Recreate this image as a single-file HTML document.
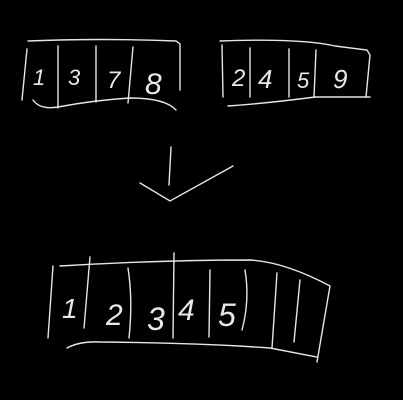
<!DOCTYPE html>
<html><head><meta charset="utf-8"><style>
html,body{margin:0;padding:0;background:#000;}
svg{display:block}
text{font-family:"Liberation Sans",sans-serif;fill:#e8e8e8;font-style:italic}
path{stroke:#e6e6e6;stroke-width:1.4;fill:none;stroke-linecap:round}
</style></head><body>
<svg width="403" height="400" viewBox="0 0 403 400">
<rect width="403" height="400" fill="#000"/>
<g>
<path d="M28 41 Q100 38 176 41 L180 44 L180 90" />
<path d="M27 49 L22 100" />
<path d="M58 46 L58 108" /><path d="M96 46 L96 102" /><path d="M133 47 L128 103" />
<path d="M33 100 Q40 110 58 107 Q95 100 130 98 Q165 98 176 110" />
<text x="33" y="85" font-size="22">1</text>
<text x="68" y="85" font-size="22">3</text>
<text x="107" y="88" font-size="24">7</text>
<text x="145" y="94" font-size="30">8</text>
</g>
<g>
<path d="M220 41 Q300 38 335 46 L367 50 L370 55 L366 97" />
<path d="M222 45 L223 97" />
<path d="M250 48 L250 97" /><path d="M289 49 L289 97" /><path d="M316 50 L314 97" />
<path d="M314 97 L370 97" />
<path d="M228 106 Q270 103 315 97" />
<text x="232" y="86" font-size="24">2</text>
<text x="258" y="88" font-size="26">4</text>
<text x="297" y="88" font-size="22">5</text>
<text x="333" y="88" font-size="26">9</text>
</g>
<g>
<path d="M171 147 L169 185" />
<path d="M140 183 L170 201 L233 166" />
</g>
<g>
<path d="M60 266 Q160 260 250 260 Q285 262 330 286 L317 362" />
<path d="M53 266 L48 338" />
<path d="M67 348 Q80 341 100 342 Q200 343 270 348 L317 357" />
<path d="M90 257 L84 328" />
<path d="M128 268 Q133 300 129 338" />
<path d="M174 253 L173 338" />
<path d="M210 270 L209 337" />
<path d="M245 270 Q250 300 242 330" />
<path d="M277 273 L272 348" />
<path d="M300 280 L294 342" />
<text x="62" y="318" font-size="28">1</text>
<text x="106" y="325" font-size="30">2</text>
<text x="147" y="330" font-size="32">3</text>
<text x="178" y="320" font-size="30">4</text>
<text x="218" y="326" font-size="32">5</text>
</g>
</svg>
</body></html>
